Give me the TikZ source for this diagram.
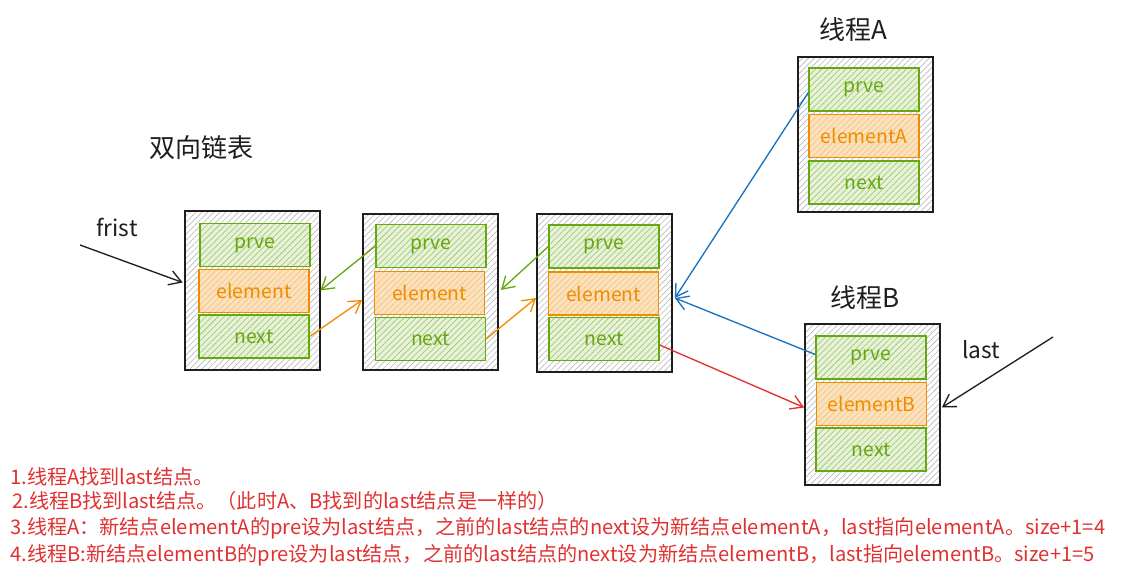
\documentclass[tikz,border=0pt]{standalone}
\usepackage{fontspec}
\newfontfamily\cjk{Noto Sans CJK SC}
\usetikzlibrary{arrows.meta,patterns.meta,calc}
\definecolor{G}{HTML}{66A80F}
\definecolor{O}{HTML}{F08C00}
\definecolor{K}{HTML}{1E1E1E}
\definecolor{B}{HTML}{1971C2}
\definecolor{R}{HTML}{E03131}
\tikzset{
  outerbox/.style={draw=K, line width=1.3pt, minimum width=101.25pt, inner sep=0pt,
    pattern={Lines[angle=45,distance=3.2pt,line width=0.5pt]}, pattern color=gray!55},
  gbox/.style={draw=G, line width=1pt, minimum width=82.5pt, minimum height=32.25pt, inner sep=0pt,
    text=G, font=\cjk\fontsize{14.5}{17}\selectfont,
    preaction={fill=G!15},
    pattern={Lines[angle=45,distance=3.2pt,line width=0.55pt]}, pattern color=G!60},
  obox/.style={draw=O, line width=1pt, minimum width=82.5pt, minimum height=32.25pt, inner sep=0pt,
    text=O, font=\cjk\fontsize{14.5}{17}\selectfont,
    preaction={fill=O!25},
    pattern={Lines[angle=45,distance=3.2pt,line width=0.55pt]}, pattern color=O!50},
  conn/.style={line width=1pt, -{Straight Barb[length=9pt,width=11pt,line width=1pt]}},
  title/.style={text=K, font=\cjk\fontsize{19.5}{23}\selectfont},
  lbl/.style={text=K, font=\cjk\fontsize{17}{20}\selectfont},
  note/.style={text=R, anchor=west, inner sep=0pt, font=\cjk\fontsize{15.1}{18}\selectfont}
}
\begin{document}
\begin{tikzpicture}[x=0.75pt,y=-0.75pt]
\useasboundingbox (0,0) rectangle (1121,577);
% list nodes
\node[outerbox, minimum height=119.25pt] (b1) at (252.5,290.5) {};
\node[gbox] (b1p) at (255,245) {prve};
\node[obox] (b1e) at (254,291) {element};
\node[gbox] (b1n) at (254,336.5) {next};

\node[outerbox, minimum height=117pt] (b2) at (430.5,292) {};
\node[gbox] (b2p) at (431,246) {prve};
\node[obox] (b2e) at (429.5,293) {element};
\node[gbox] (b2n) at (430.5,339) {next};

\node[outerbox, minimum height=118.5pt] (b3) at (604.5,293) {};
\node[gbox] (b3p) at (604,246.5) {prve};
\node[obox] (b3e) at (603.5,293.5) {element};
\node[gbox] (b3n) at (604,339) {next};

\node[outerbox, minimum height=116.25pt] (bA) at (865.5,134.5) {};
\node[gbox] (aP) at (864,89.5) {prve};
\node[obox] (aE) at (864,136) {elementA};
\node[gbox] (aN) at (864,182.5) {next};

\node[outerbox, minimum height=120.75pt] (bB) at (872.5,404.5) {};
\node[gbox] (bP) at (871,357.5) {prve};
\node[obox] (bE) at (871.5,404) {elementB};
\node[gbox] (bN) at (871,449.5) {next};

% titles and labels
\node[title] (t1) at (201,148) {双向链表};
\node[title] (tA) at (853,30) {线程A};
\node[title] (tB) at (865,298) {线程B};
\node[lbl] (lf) at (117,227) {frist};
\node[lbl] (ll) at (981,350) {last};

\coordinate (fs) at (80,245);
\coordinate (ls) at (1053,337);

% connectors
\draw[conn, K] (fs) -- ($(b1.west)+(-2,-8)$);
\draw[conn, G] (b2p.west) -- (b1.east);
\draw[conn, O] (b1n.east) -- ($(b2.west)+(0,8)$);
\draw[conn, G] (b3p.west) -- ($(b2.east)+(2,-2)$);
\draw[conn, O] (b2n.east) -- ($(b3.west)+(0,5)$);
\draw[conn, B] ($(aP.west)+(0,3)$) -- ($(b3.east)+(2,5)$);
\draw[conn, B] ($(bP.west)+(0,-3)$) -- ($(b3.east)+(2,5)$);
\draw[conn, R] ($(b3n.east)+(0,6)$) -- ($(bB.west)+(0,3)$);
\draw[conn, K] (ls) -- ($(bB.east)+(1,3)$);

% notes
\node[note] (n1) at (10,477) {1.线程A找到last结点。};
\node[note] (n2) at (12,501) {2.线程B找到last结点。（此时A、B找到的last结点是一样的）};
\node[note] (n3) at (10,528) {3.线程A：新结点elementA的pre设为last结点，之前的last结点的next设为新结点elementA，last指向elementA。size+1=4};
\node[note] (n4) at (10,555) {4.线程B:新结点elementB的pre设为last结点，之前的last结点的next设为新结点elementB，last指向elementB。size+1=5};
\end{tikzpicture}
\end{document}
